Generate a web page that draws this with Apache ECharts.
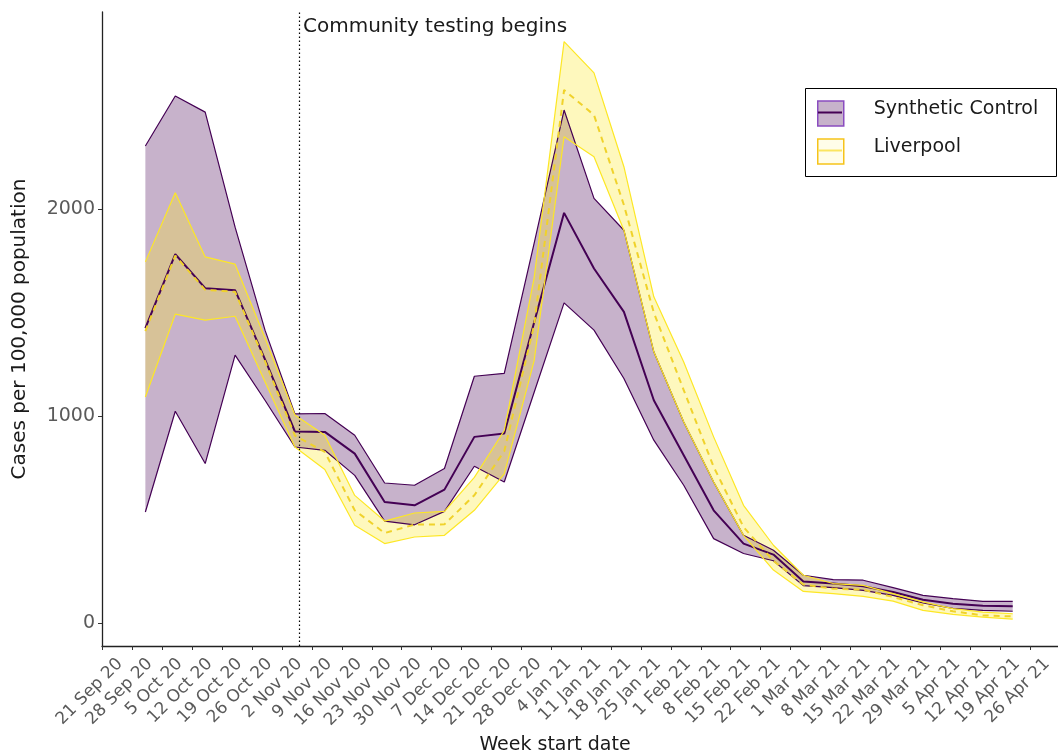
<!DOCTYPE html>
<html>
<head>
<meta charset="utf-8">
<title>Cases per 100,000 population</title>
<script src="https://cdn.jsdelivr.net/npm/echarts@6/dist/echarts.min.js"></script>
<style>
  html, body { margin: 0; padding: 0; background: #ffffff; }
  #chart { width: 1058px; height: 753px; }
</style>
</head>
<body>
<div id="chart"></div>
<script>
// Weekly case rates (per 100,000) for Liverpool and its synthetic control.
const axisOrigin = '2020-09-21';
const testingStart = '2020-11-06';

const weekStarts = [
  '2020-09-28', '2020-10-05', '2020-10-12', '2020-10-19', '2020-10-26',
  '2020-11-02', '2020-11-09', '2020-11-16', '2020-11-23', '2020-11-30',
  '2020-12-07', '2020-12-14', '2020-12-21', '2020-12-28', '2021-01-04',
  '2021-01-11', '2021-01-18', '2021-01-25', '2021-02-01', '2021-02-08',
  '2021-02-15', '2021-02-22', '2021-03-01', '2021-03-08', '2021-03-15',
  '2021-03-22', '2021-03-29', '2021-04-05', '2021-04-12', '2021-04-19'
];

const tickLabels = [
  '21 Sep 20', '28 Sep 20', '5 Oct 20', '12 Oct 20', '19 Oct 20', '26 Oct 20',
  '2 Nov 20', '9 Nov 20', '16 Nov 20', '23 Nov 20', '30 Nov 20', '7 Dec 20',
  '14 Dec 20', '21 Dec 20', '28 Dec 20', '4 Jan 21', '11 Jan 21', '18 Jan 21',
  '25 Jan 21', '1 Feb 21', '8 Feb 21', '15 Feb 21', '22 Feb 21', '1 Mar 21',
  '8 Mar 21', '15 Mar 21', '22 Mar 21', '29 Mar 21', '5 Apr 21', '12 Apr 21',
  '19 Apr 21', '26 Apr 21'
];

const yTicks = [0, 1000, 2000];

// Synthetic control: estimate with lower / upper interval
const scMean = [1425, 1782, 1618, 1608, 1274, 925, 923, 818, 584, 568,
  644, 899, 915, 1453, 1982, 1713, 1503, 1076, 810, 544,
  383, 330, 200, 190, 177, 149, 112, 92, 82, 80];
const scLower = [536, 1023, 770, 1294, 1076, 850, 834, 713, 492, 474,
  539, 757, 681, 1115, 1547, 1415, 1181, 883, 665, 407,
  335, 300, 180, 170, 157, 133, 96, 70, 60, 56];
const scUpper = [2305, 2547, 2469, 1913, 1415, 1010, 1012, 907, 676, 665,
  746, 1192, 1206, 1836, 2479, 2052, 1898, 1310, 971, 681,
  423, 351, 230, 209, 206, 170, 133, 117, 104, 104];

// Liverpool: observed rate with lower / upper interval
const livMean = [1410, 1775, 1610, 1600, 1265, 905, 826, 544, 434, 475,
  476, 617, 830, 1440, 2576, 2455, 2020, 1500, 1125, 754,
  463, 300, 185, 165, 160, 125, 85, 56, 36, 31];
const livLower = [1092, 1492, 1463, 1482, 1165, 850, 741, 472, 383, 415,
  423, 544, 720, 1268, 2350, 2253, 1898, 1310, 971, 681,
  423, 255, 152, 141, 128, 105, 60, 41, 28, 18];
const livUpper = [1745, 2079, 1769, 1734, 1377, 1005, 907, 616, 492, 531,
  539, 703, 930, 1669, 2810, 2659, 2205, 1576, 1261, 899,
  568, 375, 230, 190, 181, 141, 101, 69, 52, 44];

const DAY = 86400000;
const dayOf = (d) => (Date.parse(d) - Date.parse(axisOrigin)) / DAY;
// each week is plotted at its middle (start + 3 days)
const xs = weekStarts.map((d) => dayOf(d) + 3);
const tickDays = tickLabels.map((_, i) => i * 7);
const pairs = (ys) => xs.map((x, i) => [x, ys[i]]);

const PURPLE = '#440154';
const YELLOW = '#FDE725';
const FONT = 'DejaVu Sans';

const chart = echarts.init(document.getElementById('chart'), null, { renderer: 'canvas' });

// Shaded interval: one polygon running along the upper bound and back along the lower bound
const ribbon = (name, lo, hi, fill) => ({
  name, type: 'custom', silent: true,
  data: xs.map((x, i) => [x, lo[i], hi[i]]),
  encode: { x: 0, y: [1, 2] },
  renderItem: (params, api) => {
    if (params.dataIndex !== 0) return null;
    const top = xs.map((x, i) => api.coord([x, hi[i]]));
    const bottom = xs.map((x, i) => api.coord([x, lo[i]])).reverse();
    return {
      type: 'polygon',
      shape: { points: top.concat(bottom) },
      style: { fill: fill, stroke: null }
    };
  }
});

const edge = (name, ys, color, width, type) => ({
  name, type: 'line', data: pairs(ys), symbol: 'none', silent: true,
  lineStyle: { color: color, width: width, type: type || 'solid' },
  itemStyle: { color: color }
});

chart.setOption({
  animation: false,
  backgroundColor: '#ffffff',
  textStyle: { fontFamily: FONT },
  grid: { left: 102, right: 0, top: 12, bottom: 107, containLabel: false, outerBoundsMode: 'none' },
  xAxis: {
    type: 'value',
    min: -0.15,
    max: 223.6,
    name: 'Week start date',
    nameLocation: 'middle',
    nameGap: 90,
    nameTextStyle: { fontFamily: FONT, fontSize: 19, color: '#1a1a1a', padding: [0, 50, 0, 0] },
    axisLine: { show: true, onZero: false, lineStyle: { color: '#222', width: 1.3 } },
    axisTick: { show: true, customValues: tickDays, length: 4, lineStyle: { color: '#333', width: 1 } },
    axisLabel: {
      customValues: tickDays,
      formatter: (v) => tickLabels[Math.round(v / 7)] || '',
      rotate: 45,
      margin: -2,
      verticalAlign: 'top',
      padding: [16, 0, 0, 0],
      fontFamily: FONT,
      fontSize: 17,
      color: '#5a5a5a'
    },
    splitLine: { show: false }
  },
  yAxis: {
    type: 'value',
    min: -112,
    max: 2953,
    name: 'Cases per 100,000 population',
    nameLocation: 'middle',
    nameGap: 72,
    nameTextStyle: { fontFamily: FONT, fontSize: 20, color: '#1a1a1a' },
    axisLine: { show: true, onZero: false, lineStyle: { color: '#222', width: 1.3 } },
    axisTick: { show: true, customValues: yTicks, length: 4, lineStyle: { color: '#333', width: 1 } },
    axisLabel: {
      customValues: yTicks,
      formatter: (v) => String(v),
      margin: 7,
      fontFamily: FONT,
      fontSize: 19,
      color: '#5a5a5a'
    },
    splitLine: { show: false }
  },
  legend: {
    orient: 'vertical',
    left: 817,
    top: 100,
    padding: 0,
    itemWidth: 26,
    itemHeight: 25,
    itemGap: 11,
    selectedMode: false,
    z: 5,
    formatter: (name) => '{t|' + name + '}',
    textStyle: {
      fontFamily: FONT, fontSize: 19, color: '#1a1a1a',
      rich: {
        t: {
          fontFamily: FONT, fontSize: 19, color: '#1a1a1a',
          lineHeight: 17, padding: [0, 0, 8, 25]
        }
      }
    },
    data: [
      { name: 'Synthetic Control', icon: 'rect',
        itemStyle: { color: 'rgba(68,1,84,0.3)', borderColor: '#8a4cc0', borderWidth: 1.5 } },
      { name: 'Liverpool', icon: 'rect',
        itemStyle: { color: 'rgba(253,231,37,0.1)', borderColor: '#f6c31a', borderWidth: 1.5 } }
    ]
  },
  graphic: [
    { type: 'rect', z: 1, shape: { x: 805.5, y: 88.5, width: 251, height: 88 },
      style: { fill: '#ffffff', stroke: '#000000', lineWidth: 1 } },
    { type: 'line', z: 10, shape: { x1: 818, y1: 112.5, x2: 842, y2: 112.5 },
      style: { stroke: PURPLE, lineWidth: 2 } },
    { type: 'line', z: 10, shape: { x1: 818, y1: 150.5, x2: 842, y2: 150.5 },
      style: { stroke: '#fbe560', lineWidth: 2 } },
    { type: 'text', left: 303, top: 17, z: 10,
      style: { text: 'Community testing begins', fontFamily: FONT, fontSize: 20, fill: '#1a1a1a' } }
  ],
  series: [
    ribbon('Synthetic Control', scLower, scUpper, 'rgba(68,1,84,0.3)'),
    edge('Synthetic Control', scLower, PURPLE, 1.2),
    edge('Synthetic Control', scUpper, PURPLE, 1.2),
    Object.assign(edge('Synthetic Control', scMean, PURPLE, 2), {
      markLine: {
        silent: true, symbol: 'none', label: { show: false },
        lineStyle: { color: '#000', width: 1.2, type: [1.5, 2.5] },
        data: [{ xAxis: dayOf(testingStart) }]
      }
    }),
    ribbon('Liverpool', livLower, livUpper, 'rgba(253,231,37,0.3)'),
    edge('Liverpool', livLower, YELLOW, 1.2),
    edge('Liverpool', livUpper, YELLOW, 1.2),
    edge('Liverpool', livMean, '#F0D22B', 2, [6, 5])
  ]
});
</script>
</body>
</html>
